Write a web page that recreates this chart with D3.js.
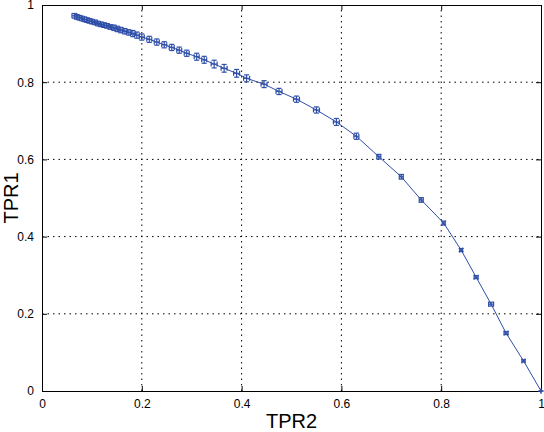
<!DOCTYPE html>
<html><head><meta charset="utf-8">
<script src="https://cdn.jsdelivr.net/npm/d3@7"></script>
<style>body{margin:0;background:#fff}</style></head>
<body><svg id="c" width="544" height="432"></svg>
<script>
const tpr2 = [0.065,0.070,0.075,0.080,0.085,0.090,0.095,0.100,0.106,0.112,0.118,0.124,0.130,0.137,0.144,0.151,0.158,0.166,0.174,0.182,0.190,0.200,0.215,0.230,0.245,0.260,0.275,0.290,0.310,0.325,0.345,0.365,0.390,0.410,0.445,0.475,0.510,0.550,0.590,0.630,0.675,0.720,0.760,0.805,0.840,0.870,0.900,0.930,0.965,1.000];
const tpr1 = [0.972,0.969,0.967,0.965,0.963,0.961,0.959,0.957,0.955,0.952,0.950,0.948,0.946,0.943,0.941,0.938,0.935,0.932,0.929,0.926,0.922,0.917,0.911,0.904,0.897,0.890,0.883,0.875,0.866,0.858,0.847,0.836,0.823,0.810,0.795,0.776,0.756,0.728,0.697,0.660,0.607,0.555,0.495,0.435,0.365,0.295,0.225,0.150,0.078,0.000];
const errX = [0.005,0.005,0.005,0.005,0.005,0.005,0.005,0.005,0.005,0.005,0.005,0.005,0.005,0.005,0.005,0.005,0.005,0.005,0.005,0.005,0.005,0.005,0.005,0.005,0.005,0.005,0.005,0.005,0.005,0.005,0.006,0.006,0.006,0.006,0.006,0.006,0.006,0.006,0.006,0.005,0.004,0.004,0.004,0.003,0.003,0.004,0.005,0.004,0.003,0.000];
const errY = [0.006,0.006,0.006,0.006,0.006,0.006,0.006,0.006,0.006,0.006,0.006,0.006,0.006,0.006,0.007,0.007,0.007,0.007,0.007,0.008,0.008,0.008,0.008,0.008,0.008,0.008,0.008,0.008,0.009,0.009,0.010,0.010,0.010,0.009,0.009,0.008,0.008,0.008,0.009,0.008,0.006,0.006,0.006,0.005,0.004,0.004,0.005,0.004,0.003,0.000];
const ticks = [0,0.2,0.4,0.6,0.8,1];
const svg = d3.select("#c");
const x = d3.scaleLinear().domain([0,1]).range([42,541]);
const y = d3.scaleLinear().domain([0,1]).range([391,5]);
const col = "#2f4fa8";
const g = svg.append("g");
// grid
g.selectAll(".gx").data(ticks.slice(1,-1)).enter().append("line").attr("x1",d=>x(d)).attr("x2",d=>x(d)).attr("y1",y(0)).attr("y2",y(1)).attr("stroke","#000").attr("stroke-dasharray","1.5,4");
g.selectAll(".gy").data(ticks.slice(1,-1)).enter().append("line").attr("y1",d=>y(d)).attr("y2",d=>y(d)).attr("x1",x(0)).attr("x2",x(1)).attr("stroke","#000").attr("stroke-dasharray","1.5,4");
// axes
const ax = svg.append("g").attr("transform",`translate(0,${y(0)})`).call(d3.axisBottom(x).tickValues(ticks).tickSize(-5).tickPadding(8).tickFormat(d3.format("")));
const ay = svg.append("g").attr("transform",`translate(${x(0)},0)`).call(d3.axisLeft(y).tickValues(ticks).tickSize(-5).tickPadding(8).tickFormat(d3.format("")));
svg.append("g").attr("transform",`translate(0,${y(1)})`).call(d3.axisTop(x).tickValues(ticks).tickSize(-5).tickFormat(""));
svg.append("g").attr("transform",`translate(${x(1)},0)`).call(d3.axisRight(y).tickValues(ticks).tickSize(-5).tickFormat(""));
svg.selectAll(".domain").attr("stroke","#000");
svg.selectAll(".tick text").attr("font-family","Liberation Sans, Arial, sans-serif").attr("font-size","12px").attr("fill","#000");
// line
const pts = tpr2.map((v,i)=>[v,tpr1[i]]);
svg.append("path").datum(pts).attr("fill","none").attr("stroke",col).attr("stroke-width",1).attr("d",d3.line().x(d=>x(d[0])).y(d=>y(d[1])));
// error bars
const eb = svg.append("g").attr("stroke",col).attr("stroke-width",1.2).attr("fill","none");
pts.forEach((p,i)=>{
  const cx=x(p[0]), cy=y(p[1]);
  const x0=x(p[0]-errX[i]), x1=x(p[0]+errX[i]);
  const y0=y(p[1]-errY[i]), y1=y(p[1]+errY[i]);
  eb.append("line").attr("x1",x0).attr("x2",x1).attr("y1",cy).attr("y2",cy);
  eb.append("line").attr("x1",x0).attr("x2",x0).attr("y1",cy-2.5).attr("y2",cy+2.5);
  eb.append("line").attr("x1",x1).attr("x2",x1).attr("y1",cy-2.5).attr("y2",cy+2.5);
  eb.append("line").attr("x1",cx).attr("x2",cx).attr("y1",y0).attr("y2",y1);
  eb.append("line").attr("x1",cx-2.5).attr("x2",cx+2.5).attr("y1",y0).attr("y2",y0);
  eb.append("line").attr("x1",cx-2.5).attr("x2",cx+2.5).attr("y1",y1).attr("y2",y1);
});
svg.append("text").attr("x",(x(0)+x(1))/2).attr("y",428).attr("text-anchor","middle").attr("font-family","Liberation Sans, Arial, sans-serif").attr("font-size","20px").text("TPR2");
svg.append("text").attr("transform",`translate(18,${(y(0)+y(1))/2}) rotate(-90)`).attr("text-anchor","middle").attr("font-family","Liberation Sans, Arial, sans-serif").attr("font-size","20px").text("TPR1");
</script></body></html>
